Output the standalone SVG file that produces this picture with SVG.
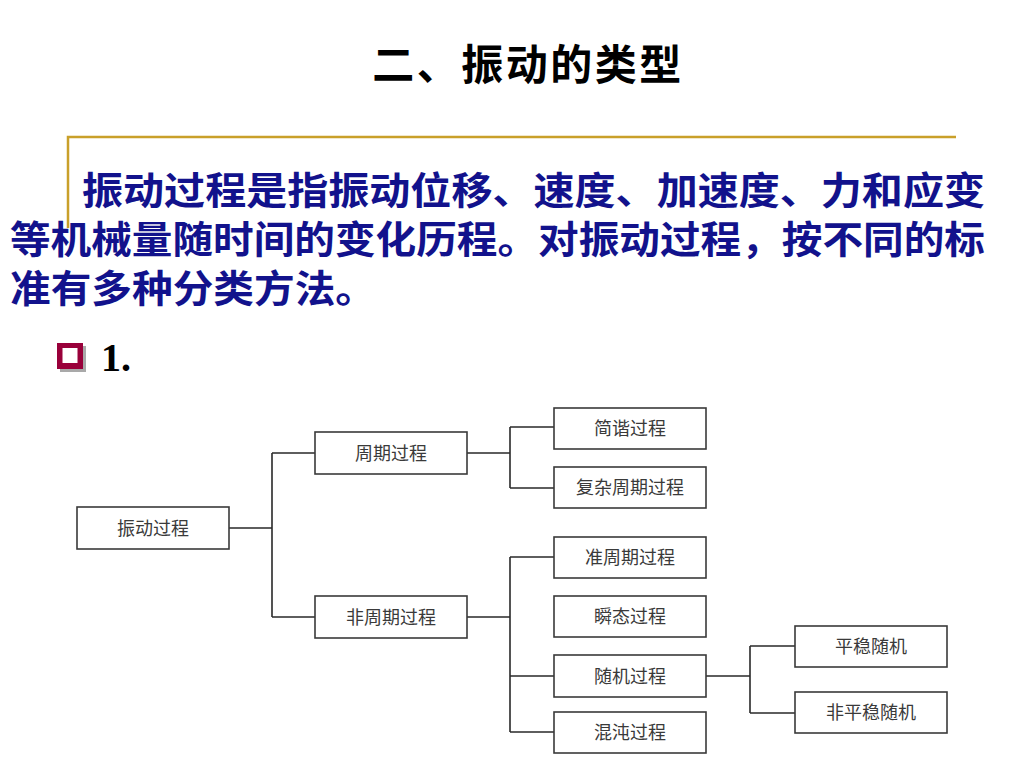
<svg xmlns="http://www.w3.org/2000/svg" width="1024" height="768" viewBox="0 0 1024 768">
<defs>
<style>
.title{font-family:"Noto Sans CJK SC","Noto Sans",sans-serif;font-size:42px;font-weight:700;fill:#000;}
.para{font-family:"Noto Sans CJK SC","Noto Sans",sans-serif;font-size:38px;font-weight:700;fill:#12128c;}
.num{font-family:"Liberation Serif",serif;font-size:40px;font-weight:700;fill:#000;}
.box rect{fill:#fff;stroke:#3a3a3a;stroke-width:1.6;}
.box text{font-family:"Noto Sans CJK SC","Noto Sans",sans-serif;font-size:18px;fill:#3a3a3a;text-anchor:middle;}
.conn path{fill:none;stroke:#2a2a2a;stroke-width:1.6;}
.gold{fill:none;stroke:#c9a02a;stroke-width:2.5;}
</style>
</defs>
<rect width="1024" height="768" fill="#fff"/>
<text class="title" x="528" y="80" text-anchor="middle" letter-spacing="2.5">二、振动的类型</text>
<path class="gold" d="M68,228 V137 H956"/>
<text class="para" x="82" y="204" textLength="903" lengthAdjust="spacingAndGlyphs">振动过程是指振动位移、速度、加速度、力和应变</text>
<text class="para" x="10" y="253" textLength="975" lengthAdjust="spacingAndGlyphs">等机械量随时间的变化历程。对振动过程，按不同的标</text>
<text class="para" x="10" y="302" textLength="366" lengthAdjust="spacingAndGlyphs">准有多种分类方法。</text>
<g id="bullet">
<rect x="60" y="346" width="26" height="26" fill="#a9a9a9"/>
<rect x="57" y="343" width="26" height="26" fill="#99003a"/>
<rect x="62.5" y="348" width="15" height="15" fill="#fff"/>
</g>
<text class="num" x="101" y="371">1.</text>
<g class="conn" id="connectors">
<path d="M229,528 H272 M272,453 V617 M272,453 H315 M272,617 H315"/>
<path d="M467,453 H510 M510,427 V488 M510,427 H554 M510,488 H554"/>
<path d="M467,617 H510 M510,557 V732 M510,557 H554 M510,676 H554 M510,732 H554"/>
<path d="M706,676 H750 M750,646 V713 M750,646 H795 M750,713 H795"/>
</g>
<g class="box" id="n-root"><rect x="77" y="507" width="152" height="42"/><text x="153" y="535">振动过程</text></g>
<g class="box" id="n-periodic"><rect x="315" y="432" width="152" height="42"/><text x="391" y="460">周期过程</text></g>
<g class="box" id="n-nonperiodic"><rect x="315" y="596" width="152" height="42"/><text x="391" y="624">非周期过程</text></g>
<g class="box" id="n-harmonic"><rect x="554" y="408" width="152" height="41"/><text x="630" y="435">简谐过程</text></g>
<g class="box" id="n-complex"><rect x="554" y="467" width="152" height="41"/><text x="630" y="494">复杂周期过程</text></g>
<g class="box" id="n-quasi"><rect x="554" y="537" width="152" height="41"/><text x="630" y="564">准周期过程</text></g>
<g class="box" id="n-transient"><rect x="554" y="596" width="152" height="41"/><text x="630" y="623">瞬态过程</text></g>
<g class="box" id="n-random"><rect x="554" y="655" width="152" height="42"/><text x="630" y="683">随机过程</text></g>
<g class="box" id="n-chaos"><rect x="554" y="712" width="152" height="41"/><text x="630" y="739">混沌过程</text></g>
<g class="box" id="n-stationary"><rect x="795" y="626" width="152" height="41"/><text x="871" y="653">平稳随机</text></g>
<g class="box" id="n-nonstationary"><rect x="795" y="692" width="152" height="41"/><text x="871" y="719">非平稳随机</text></g>
</svg>
